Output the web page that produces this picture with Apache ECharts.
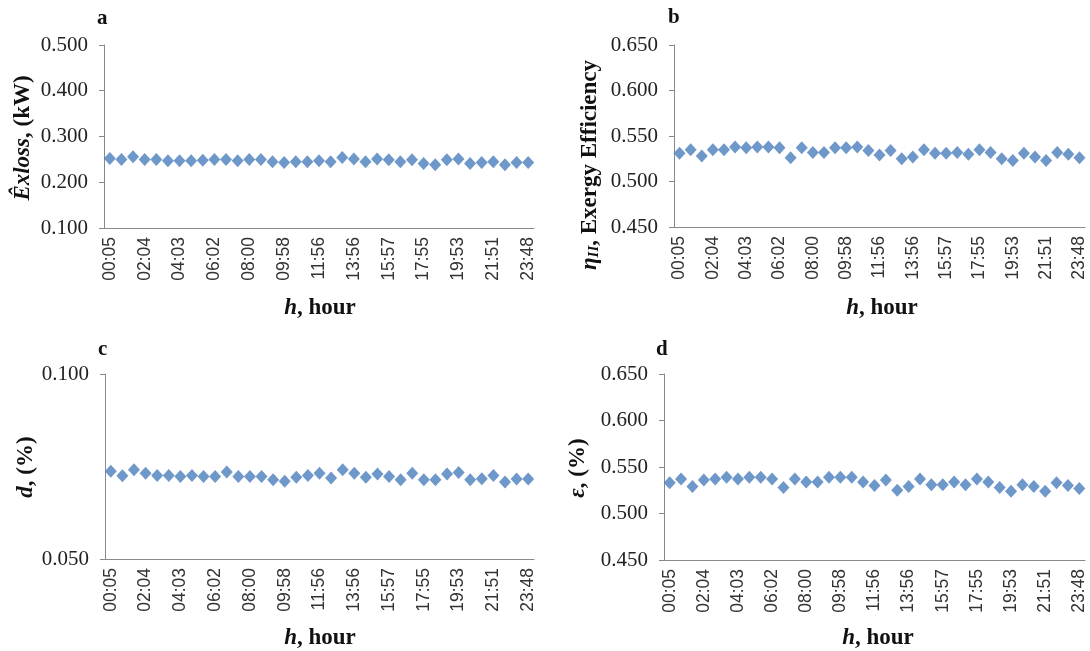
<!DOCTYPE html>
<html>
<head>
<meta charset="utf-8">
<script src="https://cdn.jsdelivr.net/npm/echarts@6/dist/echarts.min.js"></script>
<style>
html,body{margin:0;padding:0;background:#fff;}
#chart{width:1090px;height:651px;}
</style>
</head>
<body>
<div id="chart"></div>
<script>
// ---- data ----
const hours = ["00:05","00:45","01:24","02:04","02:44","03:23","04:03","04:43","05:22","06:02","06:42","07:21","08:00","08:39","09:19","09:58","10:37","11:17","11:56","12:36","13:16","13:56","14:36","15:17","15:57","16:36","17:16","17:55","18:34","19:14","19:53","20:32","21:12","21:51","22:30","23:09","23:48"];
const exLoss = [0.252,0.250,0.256,0.250,0.250,0.247,0.247,0.247,0.248,0.250,0.250,0.247,0.250,0.250,0.245,0.243,0.245,0.245,0.247,0.245,0.254,0.251,0.245,0.251,0.249,0.245,0.249,0.241,0.238,0.249,0.251,0.241,0.243,0.245,0.238,0.243,0.243];
const exergyEff = [0.531,0.535,0.528,0.535,0.535,0.538,0.537,0.538,0.538,0.537,0.526,0.537,0.532,0.532,0.537,0.537,0.538,0.534,0.529,0.534,0.525,0.527,0.535,0.531,0.531,0.532,0.530,0.535,0.532,0.525,0.523,0.531,0.527,0.523,0.532,0.530,0.526];
const dValues = [0.0737,0.0725,0.0741,0.0732,0.0726,0.0726,0.0723,0.0726,0.0723,0.0723,0.0735,0.0723,0.0723,0.0723,0.0714,0.0710,0.0721,0.0726,0.0732,0.0719,0.0741,0.0732,0.0721,0.0730,0.0723,0.0714,0.0732,0.0714,0.0714,0.0730,0.0734,0.0714,0.0717,0.0726,0.0708,0.0716,0.0716];
const epsValues = [0.533,0.537,0.529,0.536,0.537,0.539,0.537,0.539,0.539,0.537,0.528,0.537,0.534,0.534,0.539,0.539,0.539,0.534,0.530,0.536,0.525,0.529,0.537,0.531,0.531,0.534,0.531,0.537,0.534,0.528,0.524,0.531,0.529,0.524,0.533,0.530,0.527];
const yTicksA = {min:0.1, max:0.5, interval:0.1};
const yTicksB = {min:0.45, max:0.65, interval:0.05};
const yTicksC = {min:0.05, max:0.1, interval:0.05};
const yTicksD = {min:0.45, max:0.65, interval:0.05};

// ---- styling ----
const AXIS = '#898989';
const MARK = '#4A7EBB';
const SERIF = 'Liberation Serif';
const SANS = 'Liberation Sans';

const grids = [
  {left:104, top:45, width:430, height:183},
  {left:674, top:45, width:411, height:182},
  {left:105, top:374, width:429, height:185},
  {left:664, top:374, width:421, height:186}
];
const yTicks = [yTicksA, yTicksB, yTicksC, yTicksD];
const seriesData = [exLoss, exergyEff, dValues, epsValues];

const xAxes = grids.map((g,i)=>({
  type:'category', gridIndex:i, data:hours, boundaryGap:true,
  axisLine:{lineStyle:{color:AXIS, width:1}},
  axisTick:{show:false},
  axisLabel:{interval:2, rotate:90, margin:9, fontFamily:SANS, fontSize:17.5, color:'#333'},
  splitLine:{show:false}
}));
const yAxes = grids.map((g,i)=>({
  type:'value', gridIndex:i, min:yTicks[i].min, max:yTicks[i].max, interval:yTicks[i].interval,
  axisLine:{show:true, lineStyle:{color:AXIS, width:1}},
  axisTick:{show:true, length:5, lineStyle:{color:AXIS}},
  axisLabel:{margin:16, fontFamily:SERIF, fontSize:21, color:'#222', formatter:v=>v.toFixed(3)},
  splitLine:{show:false}
}));
const series = seriesData.map((d,i)=>({
  type:'scatter', xAxisIndex:i, yAxisIndex:i, data:d,
  symbol:'diamond', symbolSize:[12,13],
  itemStyle:{color:MARK}
}));

function vText(x,y,rich,text){
  return {type:'text', x:x, y:y, rotation:Math.PI/2,
    style:{text:text, rich:rich, align:'center', verticalAlign:'middle', fill:'#111'}};
}
function hText(x,y,rich,text){
  return {type:'text', x:x, y:y,
    style:{text:text, rich:rich, align:'center', verticalAlign:'middle', fill:'#111'}};
}
const richBase = {
  i:{fontFamily:SERIF, fontSize:23, fontWeight:'bold', fontStyle:'italic', color:'#111'},
  b:{fontFamily:SERIF, fontSize:23, fontWeight:'bold', color:'#111'},
  sub:{fontFamily:SERIF, fontSize:15, fontWeight:'bold', fontStyle:'italic', color:'#111', verticalAlign:'bottom', padding:[8,0,0,0]}
};
const letterStyle = (x,y,t)=>({type:'text', x:x, y:y,
  style:{text:t, fontFamily:SERIF, fontSize:21, fontWeight:'bold', fill:'#111', align:'left', verticalAlign:'middle'}});

const graphic = [
  letterStyle(97,19,'a'), letterStyle(668,18,'b'), letterStyle(98,350,'c'), letterStyle(656,350,'d'),
  vText(23,138,richBase,'{i|Êxloss}{b|, (kW)}'),
  vText(590,165,richBase,'{i|η}{sub|II}{b|, Exergy Efficiency}'),
  vText(26,467,richBase,'{i|d}{b|, (%)}'),
  vText(578,468,richBase,'{i|ε}{b|, (%)}'),
  hText(320,308,richBase,'{i|h}{b|, hour}'),
  hText(882,308,richBase,'{i|h}{b|, hour}'),
  hText(320,638,richBase,'{i|h}{b|, hour}'),
  hText(878,638,richBase,'{i|h}{b|, hour}')
];

const chart = echarts.init(document.getElementById('chart'), null, {renderer:'canvas'});
chart.setOption({
  animation:false,
  backgroundColor:'#fff',
  grid:grids,
  xAxis:xAxes,
  yAxis:yAxes,
  series:series,
  graphic:graphic
});
</script>
</body>
</html>
